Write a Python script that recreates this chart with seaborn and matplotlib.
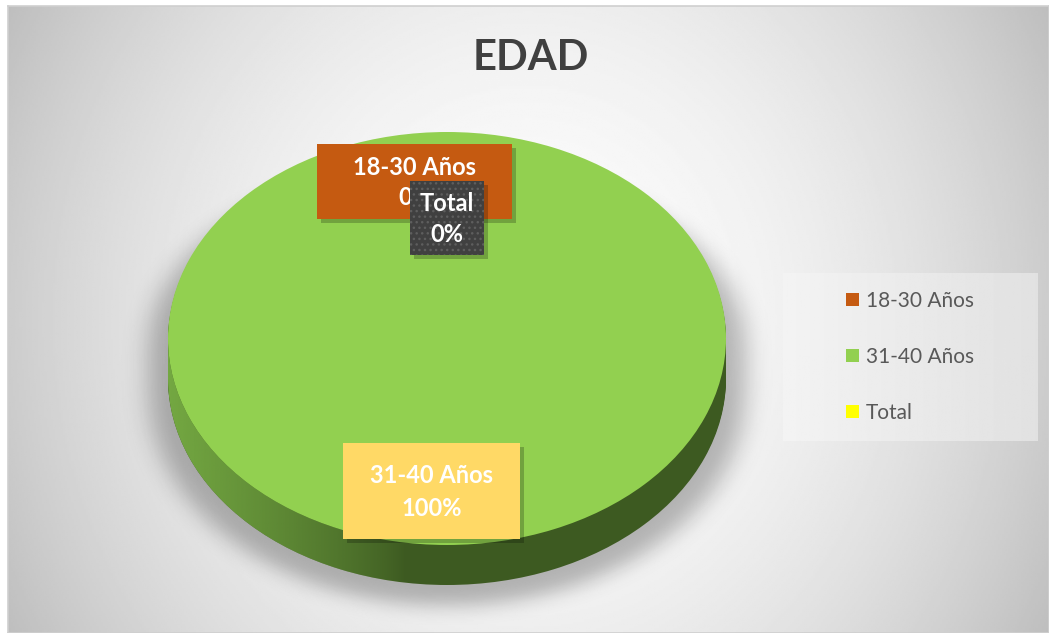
import numpy as np
import matplotlib
matplotlib.use("Agg")
import matplotlib.pyplot as plt
import seaborn as sns
from matplotlib.patches import Rectangle, Polygon

# datos del grafico
categorias = ["18-30 Años", "31-40 Años", "Total"]
valores = [0, 100, 0]
colores = ["#C55A11", "#92D050", "#FFFF00"]
colores_lado = ["#7a3a0c", "#3d5a21", "#9a9a00"]
titulo = "EDAD"

sns.set_theme(style="white")
plt.rcParams['font.family'] = ['Lato', 'DejaVu Sans']

W, H = 1049, 633
fig = plt.figure(figsize=(W / 100, H / 100), dpi=100)
fig.patch.set_facecolor("white")


def caja_px(x, y, w, h):
    # caja en pixeles (desde arriba a la izquierda) -> fraccion de figura
    return [x / W, 1 - (y + h) / H, w / W, h / H]


def suavizar(img, s):
    k = np.arange(-3 * s, 3 * s + 1)
    g = np.exp(-k ** 2 / (2.0 * s * s))
    g /= g.sum()
    img = np.apply_along_axis(lambda m: np.convolve(m, g, mode="same"), 0, img)
    img = np.apply_along_axis(lambda m: np.convolve(m, g, mode="same"), 1, img)
    return img


# fondo con degradado radial
ax_bg = fig.add_axes(caja_px(8, 6, W - 8, H - 6))
yy, xx = np.mgrid[0:1:300j, 0:1:500j]
r2 = (((xx - 0.5) / 0.5) ** 2 + 0.3 * ((yy - 0.5) / 0.5) ** 2) / 1.3
gris = 252 - 62 * r2
ax_bg.imshow(gris, cmap="gray", vmin=0, vmax=255, extent=(0, 1, 0, 1), aspect="auto")
ax_bg.set_xticks([])
ax_bg.set_yticks([])
for s in ax_bg.spines.values():
    s.set_color("#cfcfcf")
    s.set_linewidth(1.2)

# ejes del pastel (elipse: 279 x 206.5 px)
a_px, b_px = 279, 206.5
ax = fig.add_axes(caja_px(447 - 1.2 * a_px, 338.5 - 1.2 * b_px, 2.4 * a_px, 2.6 * b_px))
prof = 40 / b_px

# sombra suave detras del pastel
gx = np.linspace(-1.2, 1.2, 480)
gy = np.linspace(-1.4, 1.2, 520)
X, Y = np.meshgrid(gx, gy)
xs = X / 1.07
h = np.sqrt(np.clip(1 - xs ** 2, 0, None))
sil = ((np.abs(xs) <= 1) & (Y <= h * 0.9 - 0.05) & (Y >= -h * 1.03 - prof - 0.07)).astype(float)
sil = suavizar(sil, 9)
sombra = np.zeros(sil.shape + (4,))
sombra[..., 3] = 0.27 * sil
ax.imshow(sombra, origin="lower", extent=(-1.2, 1.2, -1.4, 1.2), aspect="auto", zorder=0)

# lado del cilindro: capas del mismo pastel
n_capas = 24
for k in range(n_capas, 0, -1):
    ax.pie(valores, colors=colores_lado, radius=1, center=(0, -prof * k / n_capas),
           startangle=90, counterclock=False, wedgeprops=dict(linewidth=0))

# brillo en el lado izquierdo
t = np.linspace(np.pi, 2 * np.pi, 200)
borde = np.column_stack([np.cos(t), np.sin(t)])
banda = np.vstack([borde, (borde - [0, prof])[::-1]])
poly = Polygon(banda, closed=True, facecolor="none", edgecolor="none", transform=ax.transData)
ax.add_patch(poly)
grad = np.zeros((2, 300, 4))
gxs = np.linspace(-1, 1, 300)
grad[..., 0] = 0x74 / 255
grad[..., 1] = 0xa8 / 255
grad[..., 2] = 0x42 / 255
grad[..., 3] = np.clip((-0.15 - gxs) / 0.85, 0, 1) ** 0.8
im = ax.imshow(grad, extent=(-1, 1, -1 - prof, 0), aspect="auto", zorder=3)
im.set_clip_path(poly)

# cara superior
cuñas, _ = ax.pie(valores, colors=colores, radius=1, center=(0, 0),
                  startangle=90, counterclock=False, wedgeprops=dict(linewidth=0))
for c in cuñas:
    c.set_zorder(4)
ax.set_aspect("auto")
ax.set_xlim(-1.2, 1.2)
ax.set_ylim(-1.4, 1.2)
ax.axis("off")

# titulo
fig.text(531 / W, 1 - 58 / H, titulo, ha="center", va="center",
         fontsize=30, fontweight="bold", color="#404040")

# etiquetas de datos
total = sum(valores)
pct = [v / total * 100 for v in valores]
etiquetas = [f"{c}\n{p:.0f}%" for c, p in zip(categorias, pct)]
cajas = {
    0: dict(px=(317, 144, 195, 75), fc="#C55A11", hatch=None, z=6, ls=1.42),
    2: dict(px=(410, 181, 74, 74), fc="#404040", hatch="...", z=9, ls=1.42),
    1: dict(px=(343, 443, 177, 96), fc="#FFD966", hatch=None, z=12, ls=1.55),
}
for i, cfg in cajas.items():
    x, y, w, hh = cfg["px"]
    fig.add_artist(Rectangle(((x + 4) / W, 1 - (y + hh + 4) / H), w / W, hh / H,
                             transform=fig.transFigure, facecolor="black", alpha=0.22,
                             linewidth=0, zorder=cfg["z"] - 1))
    fig.add_artist(Rectangle((x / W, 1 - (y + hh) / H), w / W, hh / H,
                             transform=fig.transFigure, facecolor=cfg["fc"],
                             edgecolor="#5e5e5e", hatch=cfg["hatch"], linewidth=0,
                             zorder=cfg["z"]))
    fig.text((x + w / 2) / W, 1 - (y + hh / 2 + 1) / H, etiquetas[i], ha="center", va="center",
             fontsize=17, fontweight="bold", color="white", linespacing=cfg["ls"],
             zorder=cfg["z"] + 1)

# leyenda
ax_ley = fig.add_axes(caja_px(783, 273, 255, 168))
lg = np.linspace(243, 225, 200)[None, :]
ax_ley.imshow(lg, cmap="gray", vmin=0, vmax=255, extent=(0, 1, 0, 1), aspect="auto")
ax_ley.axis("off")
fig.legend(cuñas, categorias, loc="upper left", bbox_to_anchor=(846 / W, 1 - 291 / H),
           frameon=False, borderpad=0, borderaxespad=0, handlelength=0.62,
           handleheight=0.62, handletextpad=0.35, labelspacing=1.72, fontsize=15,
           labelcolor="#595959")

fig.savefig("out.png", dpi=100)
